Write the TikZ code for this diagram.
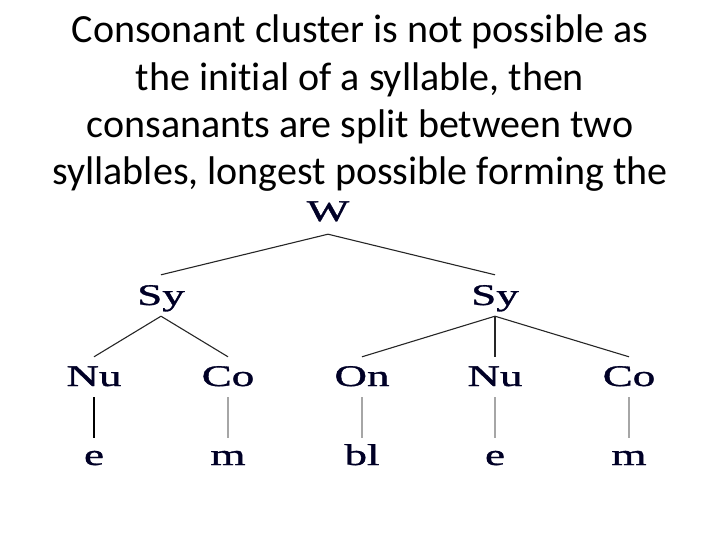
\documentclass[tikz,border=0pt]{standalone}
\usepackage{fontspec}
\setmainfont{Carlito}[Ligatures=NoCommon]
\newfontfamily\treefont{Liberation Serif}[FakeBold=1]
\usepackage{graphicx}
\usetikzlibrary{calc}

\newcommand{\wide}[1]{\scalebox{1.5}[1]{#1}}

\begin{document}
\begin{tikzpicture}[x=1pt,y=-1pt,
    title/.style={anchor=base, inner sep=0pt, font=\fontsize{40}{40}\selectfont},
    lab/.style={anchor=base, inner sep=0pt, text height=19pt, text depth=0pt,
      text=black!85!blue, font=\fontsize{30}{30}\selectfont\treefont},
    branch/.style={line width=1.1pt, black!85},
    stem/.style={line width=1.4pt, gray!70}
  ]
        \useasboundingbox (0,0) rectangle (720,540);
        % heading
        \node[title] (t1) at (360,43) {Consonant cluster is not possible as};
        \node[title] (t2) at (360,91) {the initial of a syllable, then};
        \node[title] (t3) at (360,138) {consanants are split between two};
        \node[title] (t4) at (360,185) {syllables, longest possible forming the};
        % tree
        \node[lab] (w) at (328,221) {\wide{W}};
        \node[lab] (syl) at (161,305) {\wide{Sy}};
        \node[lab] (syr) at (495,305) {\wide{Sy}};
        \node[lab] (nul) at (94,386) {\wide{Nu}};
        \node[lab] (col) at (228,386) {\wide{Co}};
        \node[lab] (on) at (362,386) {\wide{On}};
        \node[lab] (nur) at (495,386) {\wide{Nu}};
        \node[lab] (cor) at (629,386) {\wide{Co}};
        \node[lab] (el) at (94,465) {\wide{e}};
        \node[lab] (ml) at (228,465) {\wide{m}};
        \node[lab] (bl) at (362,465) {\wide{bl}};
        \node[lab] (er) at (495,465) {\wide{e}};
        \node[lab] (mr) at (629,465) {\wide{m}};
        \draw[branch] ([yshift=-13pt]w.south) -- ([yshift=11pt]syl.north);
        \draw[branch] ([yshift=-13pt]w.south) -- ([yshift=11pt]syr.north);
        \foreach \a/\b in {syl/nul, syl/col, syr/on, syr/nur, syr/cor}
          \draw[branch] ([yshift=-11pt]\a.south) -- ([yshift=10pt]\b.north);
        \draw[stem, black] ([yshift=-11pt]nul.south) -- ([yshift=8pt]el.north);
        \foreach \a/\b in {col/ml, on/bl, nur/er, cor/mr}
          \draw[stem] ([yshift=-11pt]\a.south) -- ([yshift=8pt]\b.north);
    \end{tikzpicture}
\end{document}
